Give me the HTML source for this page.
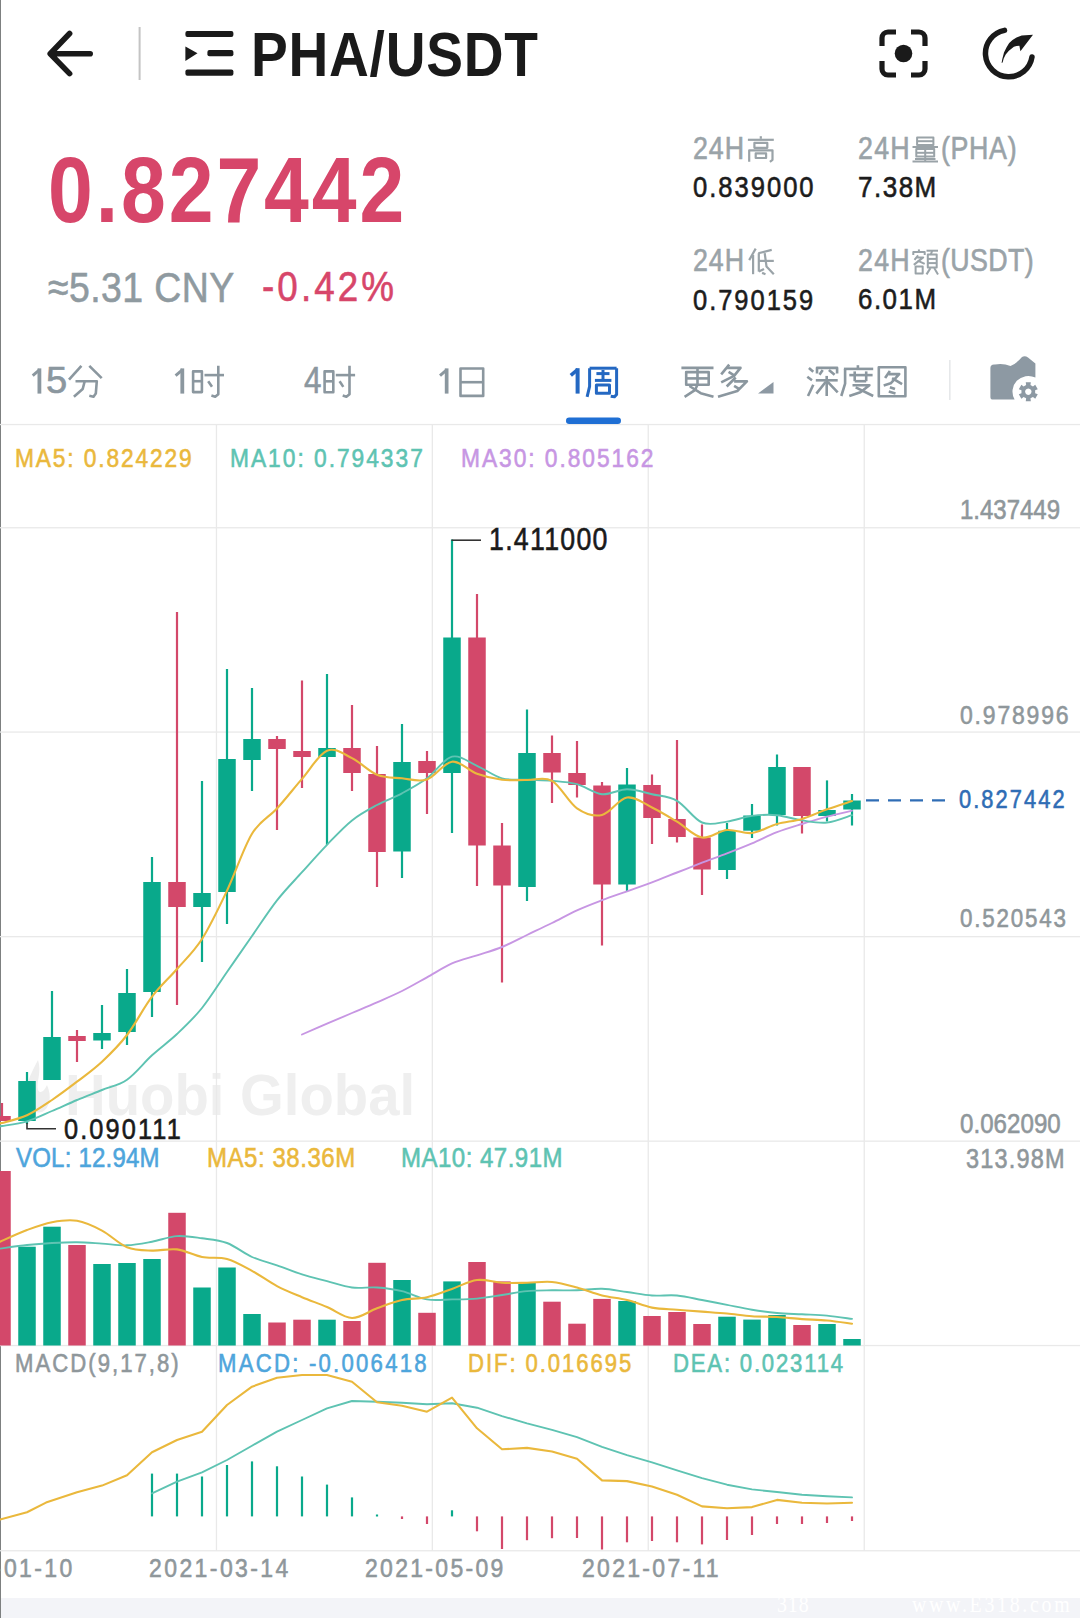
<!DOCTYPE html>
<html><head><meta charset="utf-8"><style>
html,body{margin:0;padding:0;background:#fff;}
body{width:1080px;height:1618px;position:relative;overflow:hidden;font-family:"Liberation Sans",sans-serif;}
.t{position:absolute;white-space:nowrap;line-height:1;transform-origin:0 0;}
.s{position:absolute;left:0;top:0;}
</style></head><body>
<div style="position:absolute;left:0;top:1598px;width:1080px;height:20px;background:#f3f4f8"></div>
<div style="position:absolute;left:0;top:0;width:1.3px;height:1618px;background:#7d8080"></div>
<svg class="s" width="1080" height="1618"><path d="M38,1060 C30,1075 24,1088 26,1100 C28,1110 36,1114 42,1112 C50,1108 52,1096 47,1085 C44,1092 40,1094 38,1090 C36,1082 42,1072 38,1060 Z" fill="#eeeeee"/></svg><div class="t" style="left:65.14px;top:1066.06px;font-size:58.29px;color:#efefef;font-weight:bold;letter-spacing:0.000px;transform:scaleX(0.9657);">Huobi Global</div><svg class="s" width="1080" height="1618" viewBox="0 0 1080 1618"><rect x="0" y="423.9" width="1080" height="1.3" fill="#e9e9e9"/><rect x="0" y="527.1" width="1080" height="1.3" fill="#e9e9e9"/><rect x="0" y="731.4" width="1080" height="1.3" fill="#e9e9e9"/><rect x="0" y="936.0" width="1080" height="1.3" fill="#e9e9e9"/><rect x="0" y="1140.5" width="1080" height="1.3" fill="#e9e9e9"/><rect x="0" y="1344.9" width="1080" height="1.3" fill="#e9e9e9"/><rect x="0" y="1550.1" width="1080" height="1.3" fill="#e9e9e9"/><rect x="215.8" y="425" width="1.3" height="1126" fill="#e9e9e9"/><rect x="431.7" y="425" width="1.3" height="1126" fill="#e9e9e9"/><rect x="647.6" y="425" width="1.3" height="1126" fill="#e9e9e9"/><rect x="863.6" y="425" width="1.3" height="1126" fill="#e9e9e9"/><rect x="0.90" y="1103.00" width="2.2" height="18.00" fill="#d3486a"/><rect x="-6.75" y="1116.00" width="17.5" height="5.00" fill="#d3486a"/><rect x="25.90" y="1072.00" width="2.2" height="52.00" fill="#09a98b"/><rect x="18.25" y="1081.00" width="17.5" height="40.00" fill="#09a98b"/><rect x="50.90" y="991.00" width="2.2" height="89.00" fill="#09a98b"/><rect x="43.25" y="1037.00" width="17.5" height="43.00" fill="#09a98b"/><rect x="75.90" y="1030.00" width="2.2" height="32.00" fill="#d3486a"/><rect x="68.25" y="1036.00" width="17.5" height="5.00" fill="#d3486a"/><rect x="100.90" y="1005.00" width="2.2" height="44.00" fill="#09a98b"/><rect x="93.25" y="1033.00" width="17.5" height="7.50" fill="#09a98b"/><rect x="125.90" y="969.00" width="2.2" height="76.00" fill="#09a98b"/><rect x="118.25" y="993.00" width="17.5" height="39.00" fill="#09a98b"/><rect x="150.90" y="857.00" width="2.2" height="160.00" fill="#09a98b"/><rect x="143.25" y="882.00" width="17.5" height="110.00" fill="#09a98b"/><rect x="175.90" y="612.00" width="2.2" height="393.00" fill="#d3486a"/><rect x="168.25" y="882.00" width="17.5" height="25.00" fill="#d3486a"/><rect x="200.90" y="781.00" width="2.2" height="181.00" fill="#09a98b"/><rect x="193.25" y="893.00" width="17.5" height="14.00" fill="#09a98b"/><rect x="225.90" y="669.00" width="2.2" height="255.00" fill="#09a98b"/><rect x="218.25" y="759.00" width="17.5" height="133.00" fill="#09a98b"/><rect x="250.90" y="688.00" width="2.2" height="103.00" fill="#09a98b"/><rect x="243.25" y="739.00" width="17.5" height="21.00" fill="#09a98b"/><rect x="275.90" y="736.00" width="2.2" height="94.00" fill="#d3486a"/><rect x="268.25" y="739.00" width="17.5" height="10.00" fill="#d3486a"/><rect x="300.90" y="680.50" width="2.2" height="107.50" fill="#d3486a"/><rect x="293.25" y="751.00" width="17.5" height="6.00" fill="#d3486a"/><rect x="325.90" y="674.00" width="2.2" height="171.00" fill="#09a98b"/><rect x="318.25" y="748.00" width="17.5" height="9.00" fill="#09a98b"/><rect x="350.90" y="705.00" width="2.2" height="86.00" fill="#d3486a"/><rect x="343.25" y="748.00" width="17.5" height="25.00" fill="#d3486a"/><rect x="375.90" y="746.00" width="2.2" height="141.00" fill="#d3486a"/><rect x="368.25" y="774.00" width="17.5" height="78.00" fill="#d3486a"/><rect x="400.90" y="724.00" width="2.2" height="154.00" fill="#09a98b"/><rect x="393.25" y="762.00" width="17.5" height="89.50" fill="#09a98b"/><rect x="425.90" y="751.00" width="2.2" height="63.00" fill="#d3486a"/><rect x="418.25" y="761.00" width="17.5" height="12.00" fill="#d3486a"/><rect x="450.90" y="539.50" width="2.2" height="293.50" fill="#09a98b"/><rect x="443.25" y="637.50" width="17.5" height="135.50" fill="#09a98b"/><rect x="475.90" y="594.00" width="2.2" height="292.00" fill="#d3486a"/><rect x="468.25" y="637.50" width="17.5" height="208.00" fill="#d3486a"/><rect x="500.90" y="823.00" width="2.2" height="159.50" fill="#d3486a"/><rect x="493.25" y="845.50" width="17.5" height="40.00" fill="#d3486a"/><rect x="525.90" y="709.50" width="2.2" height="191.50" fill="#09a98b"/><rect x="518.25" y="753.00" width="17.5" height="134.00" fill="#09a98b"/><rect x="550.90" y="735.50" width="2.2" height="67.50" fill="#d3486a"/><rect x="543.25" y="753.00" width="17.5" height="19.50" fill="#d3486a"/><rect x="575.90" y="741.00" width="2.2" height="56.50" fill="#d3486a"/><rect x="568.25" y="773.00" width="17.5" height="12.00" fill="#d3486a"/><rect x="600.90" y="782.00" width="2.2" height="163.50" fill="#d3486a"/><rect x="593.25" y="785.50" width="17.5" height="99.00" fill="#d3486a"/><rect x="625.90" y="768.00" width="2.2" height="123.00" fill="#09a98b"/><rect x="618.25" y="784.50" width="17.5" height="100.00" fill="#09a98b"/><rect x="650.90" y="774.50" width="2.2" height="69.50" fill="#d3486a"/><rect x="643.25" y="785.00" width="17.5" height="33.00" fill="#d3486a"/><rect x="675.90" y="740.00" width="2.2" height="102.50" fill="#d3486a"/><rect x="668.25" y="819.00" width="17.5" height="18.00" fill="#d3486a"/><rect x="700.90" y="824.50" width="2.2" height="70.50" fill="#d3486a"/><rect x="693.25" y="837.50" width="17.5" height="32.00" fill="#d3486a"/><rect x="725.90" y="823.00" width="2.2" height="56.00" fill="#09a98b"/><rect x="718.25" y="830.75" width="17.5" height="39.25" fill="#09a98b"/><rect x="750.90" y="804.00" width="2.2" height="34.00" fill="#09a98b"/><rect x="743.25" y="815.50" width="17.5" height="15.20" fill="#09a98b"/><rect x="775.90" y="754.50" width="2.2" height="71.00" fill="#09a98b"/><rect x="768.25" y="767.00" width="17.5" height="48.00" fill="#09a98b"/><rect x="800.90" y="767.00" width="2.2" height="66.50" fill="#d3486a"/><rect x="793.25" y="767.00" width="17.5" height="49.00" fill="#d3486a"/><rect x="825.90" y="780.40" width="2.2" height="41.10" fill="#09a98b"/><rect x="818.25" y="810.00" width="17.5" height="6.00" fill="#09a98b"/><rect x="850.90" y="794.00" width="2.2" height="31.50" fill="#09a98b"/><rect x="843.25" y="800.50" width="17.5" height="9.00" fill="#09a98b"/><rect x="-6.75" y="1171.00" width="17.5" height="174.50" fill="#d3486a"/><rect x="18.25" y="1246.70" width="17.5" height="98.80" fill="#09a98b"/><rect x="43.25" y="1226.70" width="17.5" height="118.80" fill="#09a98b"/><rect x="68.25" y="1245.00" width="17.5" height="100.50" fill="#d3486a"/><rect x="93.25" y="1264.00" width="17.5" height="81.50" fill="#09a98b"/><rect x="118.25" y="1263.00" width="17.5" height="82.50" fill="#09a98b"/><rect x="143.25" y="1259.00" width="17.5" height="86.50" fill="#09a98b"/><rect x="168.25" y="1212.80" width="17.5" height="132.70" fill="#d3486a"/><rect x="193.25" y="1287.50" width="17.5" height="58.00" fill="#09a98b"/><rect x="218.25" y="1267.50" width="17.5" height="78.00" fill="#09a98b"/><rect x="243.25" y="1314.00" width="17.5" height="31.50" fill="#09a98b"/><rect x="268.25" y="1322.50" width="17.5" height="23.00" fill="#d3486a"/><rect x="293.25" y="1319.70" width="17.5" height="25.80" fill="#d3486a"/><rect x="318.25" y="1319.70" width="17.5" height="25.80" fill="#09a98b"/><rect x="343.25" y="1321.00" width="17.5" height="24.50" fill="#d3486a"/><rect x="368.25" y="1262.80" width="17.5" height="82.70" fill="#d3486a"/><rect x="393.25" y="1280.00" width="17.5" height="65.50" fill="#09a98b"/><rect x="418.25" y="1312.80" width="17.5" height="32.70" fill="#d3486a"/><rect x="443.25" y="1281.40" width="17.5" height="64.10" fill="#09a98b"/><rect x="468.25" y="1262.00" width="17.5" height="83.50" fill="#d3486a"/><rect x="493.25" y="1281.40" width="17.5" height="64.10" fill="#d3486a"/><rect x="518.25" y="1282.80" width="17.5" height="62.70" fill="#09a98b"/><rect x="543.25" y="1301.70" width="17.5" height="43.80" fill="#d3486a"/><rect x="568.25" y="1323.70" width="17.5" height="21.80" fill="#d3486a"/><rect x="593.25" y="1298.90" width="17.5" height="46.60" fill="#d3486a"/><rect x="618.25" y="1301.00" width="17.5" height="44.50" fill="#09a98b"/><rect x="643.25" y="1316.00" width="17.5" height="29.50" fill="#d3486a"/><rect x="668.25" y="1312.00" width="17.5" height="33.50" fill="#d3486a"/><rect x="693.25" y="1324.00" width="17.5" height="21.50" fill="#d3486a"/><rect x="718.25" y="1316.70" width="17.5" height="28.80" fill="#09a98b"/><rect x="743.25" y="1319.60" width="17.5" height="25.90" fill="#09a98b"/><rect x="768.25" y="1315.00" width="17.5" height="30.50" fill="#09a98b"/><rect x="793.25" y="1325.00" width="17.5" height="20.50" fill="#d3486a"/><rect x="818.25" y="1324.00" width="17.5" height="21.50" fill="#09a98b"/><rect x="843.25" y="1339.00" width="17.5" height="6.50" fill="#09a98b"/><rect x="150.90" y="1473.60" width="2.2" height="42.80" fill="#09a98b"/><rect x="175.90" y="1473.60" width="2.2" height="42.80" fill="#09a98b"/><rect x="200.90" y="1476.50" width="2.2" height="39.90" fill="#09a98b"/><rect x="225.90" y="1465.00" width="2.2" height="51.40" fill="#09a98b"/><rect x="250.90" y="1461.40" width="2.2" height="55.00" fill="#09a98b"/><rect x="275.90" y="1466.30" width="2.2" height="50.10" fill="#09a98b"/><rect x="300.90" y="1476.50" width="2.2" height="39.90" fill="#09a98b"/><rect x="325.90" y="1484.60" width="2.2" height="31.80" fill="#09a98b"/><rect x="350.90" y="1497.40" width="2.2" height="19.00" fill="#09a98b"/><rect x="375.90" y="1514.50" width="2.2" height="2.00" fill="#09a98b"/><rect x="400.90" y="1516.40" width="2.2" height="2.60" fill="#d3486a"/><rect x="425.90" y="1516.40" width="2.2" height="7.60" fill="#d3486a"/><rect x="450.90" y="1510.30" width="2.2" height="6.10" fill="#09a98b"/><rect x="475.90" y="1516.40" width="2.2" height="14.90" fill="#d3486a"/><rect x="500.90" y="1516.40" width="2.2" height="32.60" fill="#d3486a"/><rect x="525.90" y="1516.40" width="2.2" height="23.80" fill="#d3486a"/><rect x="550.90" y="1516.40" width="2.2" height="21.80" fill="#d3486a"/><rect x="575.90" y="1516.40" width="2.2" height="21.60" fill="#d3486a"/><rect x="600.90" y="1516.40" width="2.2" height="33.10" fill="#d3486a"/><rect x="625.90" y="1516.40" width="2.2" height="25.90" fill="#d3486a"/><rect x="650.90" y="1516.40" width="2.2" height="24.60" fill="#d3486a"/><rect x="675.90" y="1516.40" width="2.2" height="25.90" fill="#d3486a"/><rect x="700.90" y="1516.40" width="2.2" height="28.00" fill="#d3486a"/><rect x="725.90" y="1516.40" width="2.2" height="23.60" fill="#d3486a"/><rect x="750.90" y="1516.40" width="2.2" height="18.60" fill="#d3486a"/><rect x="775.90" y="1516.40" width="2.2" height="7.60" fill="#d3486a"/><rect x="800.90" y="1516.40" width="2.2" height="7.60" fill="#d3486a"/><rect x="825.90" y="1516.40" width="2.2" height="6.60" fill="#d3486a"/><rect x="850.90" y="1516.40" width="2.2" height="4.60" fill="#d3486a"/><path d="M302.00,1034.50 C306.17,1032.70 318.67,1027.28 327.00,1023.70 C335.33,1020.12 343.67,1016.57 352.00,1013.00 C360.33,1009.43 368.67,1005.97 377.00,1002.30 C385.33,998.63 393.67,995.17 402.00,991.00 C410.33,986.83 418.67,981.90 427.00,977.30 C435.33,972.70 443.67,967.07 452.00,963.40 C460.33,959.73 468.67,958.03 477.00,955.30 C485.33,952.57 493.67,950.38 502.00,947.00 C510.33,943.62 518.67,939.00 527.00,935.00 C535.33,931.00 543.67,927.12 552.00,923.00 C560.33,918.88 568.67,914.10 577.00,910.30 C585.33,906.50 593.67,903.37 602.00,900.20 C610.33,897.03 618.67,894.28 627.00,891.30 C635.33,888.32 643.67,885.43 652.00,882.30 C660.33,879.17 668.67,875.77 677.00,872.50 C685.33,869.23 693.67,865.90 702.00,862.70 C710.33,859.50 718.67,856.53 727.00,853.30 C735.33,850.07 743.67,846.82 752.00,843.30 C760.33,839.78 768.67,835.42 777.00,832.20 C785.33,828.98 793.67,826.58 802.00,824.00 C810.33,821.42 818.67,818.92 827.00,816.70 C835.33,814.48 847.83,811.70 852.00,810.70" fill="none" stroke="#c796e3" stroke-width="1.9" stroke-linejoin="round" stroke-linecap="round"/><path d="M0.00,1126.00 C0.33,1126.00 -2.50,1126.78 2.00,1126.00 C6.50,1125.22 18.67,1123.80 27.00,1121.30 C35.33,1118.80 43.67,1114.55 52.00,1111.00 C60.33,1107.45 68.67,1103.50 77.00,1100.00 C85.33,1096.50 93.67,1093.38 102.00,1090.00 C110.33,1086.62 118.67,1085.48 127.00,1079.70 C135.33,1073.92 143.67,1062.92 152.00,1055.30 C160.33,1047.68 168.67,1041.88 177.00,1034.00 C185.33,1026.12 193.67,1018.33 202.00,1008.00 C210.33,997.67 218.67,984.00 227.00,972.00 C235.33,960.00 243.67,947.93 252.00,936.00 C260.33,924.07 268.67,911.03 277.00,900.40 C285.33,889.77 293.67,881.47 302.00,872.20 C310.33,862.93 318.67,853.43 327.00,844.80 C335.33,836.17 343.67,827.03 352.00,820.40 C360.33,813.77 368.67,809.52 377.00,805.00 C385.33,800.48 393.67,797.75 402.00,793.30 C410.33,788.85 418.67,784.40 427.00,778.30 C435.33,772.20 443.67,758.78 452.00,756.70 C460.33,754.62 468.67,762.20 477.00,765.80 C485.33,769.40 493.67,775.98 502.00,778.30 C510.33,780.62 518.67,779.28 527.00,779.70 C535.33,780.12 543.67,780.05 552.00,780.80 C560.33,781.55 568.67,781.97 577.00,784.20 C585.33,786.43 593.67,793.37 602.00,794.20 C610.33,795.03 618.67,789.20 627.00,789.20 C635.33,789.20 643.67,792.27 652.00,794.20 C660.33,796.13 668.67,796.08 677.00,800.80 C685.33,805.52 693.67,819.03 702.00,822.50 C710.33,825.97 718.67,822.70 727.00,821.60 C735.33,820.50 743.67,816.97 752.00,815.90 C760.33,814.83 768.67,814.45 777.00,815.20 C785.33,815.95 793.67,819.17 802.00,820.40 C810.33,821.63 818.67,823.47 827.00,822.60 C835.33,821.73 847.83,816.43 852.00,815.20" fill="none" stroke="#5ec3b2" stroke-width="1.9" stroke-linejoin="round" stroke-linecap="round"/><path d="M0.00,1123.00 C0.33,1123.00 -2.50,1124.28 2.00,1123.00 C6.50,1121.72 18.67,1119.13 27.00,1115.30 C35.33,1111.47 43.67,1105.60 52.00,1100.00 C60.33,1094.40 68.67,1088.08 77.00,1081.70 C85.33,1075.32 93.67,1069.48 102.00,1061.70 C110.33,1053.92 118.67,1045.83 127.00,1035.00 C135.33,1024.17 143.67,1007.70 152.00,996.70 C160.33,985.70 168.67,978.62 177.00,969.00 C185.33,959.38 193.67,952.05 202.00,939.00 C210.33,925.95 218.67,908.25 227.00,890.70 C235.33,873.15 243.67,847.40 252.00,833.70 C260.33,820.00 268.67,817.63 277.00,808.50 C285.33,799.37 293.67,788.53 302.00,778.90 C310.33,769.27 318.67,754.17 327.00,750.70 C335.33,747.23 343.67,754.10 352.00,758.10 C360.33,762.10 368.67,771.33 377.00,774.70 C385.33,778.07 393.67,777.50 402.00,778.30 C410.33,779.10 418.67,782.27 427.00,779.50 C435.33,776.73 443.67,762.67 452.00,761.70 C460.33,760.73 468.67,770.70 477.00,773.70 C485.33,776.70 493.67,778.65 502.00,779.70 C510.33,780.75 518.67,779.82 527.00,780.00 C535.33,780.18 543.67,776.08 552.00,780.80 C560.33,785.52 568.67,802.60 577.00,808.30 C585.33,814.00 593.67,816.80 602.00,815.00 C610.33,813.20 618.67,798.75 627.00,797.50 C635.33,796.25 643.67,803.47 652.00,807.50 C660.33,811.53 668.67,816.70 677.00,821.70 C685.33,826.70 693.67,836.12 702.00,837.50 C710.33,838.88 718.67,830.75 727.00,830.00 C735.33,829.25 743.67,834.00 752.00,833.00 C760.33,832.00 768.67,826.35 777.00,824.00 C785.33,821.65 793.67,821.35 802.00,818.90 C810.33,816.45 818.67,812.27 827.00,809.30 C835.33,806.33 847.83,802.47 852.00,801.10" fill="none" stroke="#eab83c" stroke-width="2.1" stroke-linejoin="round" stroke-linecap="round"/><path d="M0.00,1248.60 C4.50,1248.00 18.33,1245.93 27.00,1245.00 C35.67,1244.07 43.67,1243.47 52.00,1243.00 C60.33,1242.53 68.67,1242.10 77.00,1242.20 C85.33,1242.30 93.67,1243.08 102.00,1243.60 C110.33,1244.12 118.67,1245.62 127.00,1245.30 C135.33,1244.98 143.67,1243.23 152.00,1241.70 C160.33,1240.17 168.67,1236.67 177.00,1236.10 C185.33,1235.53 193.67,1237.15 202.00,1238.30 C210.33,1239.45 218.67,1239.88 227.00,1243.00 C235.33,1246.12 243.67,1253.28 252.00,1257.00 C260.33,1260.72 268.67,1262.40 277.00,1265.30 C285.33,1268.20 293.67,1271.77 302.00,1274.40 C310.33,1277.03 318.67,1278.92 327.00,1281.10 C335.33,1283.28 343.67,1286.43 352.00,1287.50 C360.33,1288.57 368.67,1286.90 377.00,1287.50 C385.33,1288.10 393.67,1289.12 402.00,1291.10 C410.33,1293.08 418.67,1298.02 427.00,1299.40 C435.33,1300.78 443.67,1299.53 452.00,1299.40 C460.33,1299.27 468.67,1299.33 477.00,1298.60 C485.33,1297.87 493.67,1296.25 502.00,1295.00 C510.33,1293.75 518.67,1291.88 527.00,1291.10 C535.33,1290.32 543.67,1290.43 552.00,1290.30 C560.33,1290.17 568.67,1290.55 577.00,1290.30 C585.33,1290.05 593.67,1288.52 602.00,1288.80 C610.33,1289.08 618.67,1290.88 627.00,1292.00 C635.33,1293.12 643.67,1294.92 652.00,1295.50 C660.33,1296.08 668.67,1294.75 677.00,1295.50 C685.33,1296.25 693.67,1298.43 702.00,1300.00 C710.33,1301.57 718.67,1303.28 727.00,1304.90 C735.33,1306.52 743.67,1308.35 752.00,1309.70 C760.33,1311.05 768.67,1312.23 777.00,1313.00 C785.33,1313.77 793.67,1313.87 802.00,1314.30 C810.33,1314.73 818.67,1314.83 827.00,1315.60 C835.33,1316.37 847.83,1318.35 852.00,1318.90" fill="none" stroke="#5ec3b2" stroke-width="1.9" stroke-linejoin="round" stroke-linecap="round"/><path d="M0.00,1241.70 C4.50,1239.75 18.33,1233.25 27.00,1230.00 C35.67,1226.75 43.67,1223.73 52.00,1222.20 C60.33,1220.67 68.67,1219.40 77.00,1220.80 C85.33,1222.20 93.67,1226.20 102.00,1230.60 C110.33,1235.00 118.67,1243.87 127.00,1247.20 C135.33,1250.53 143.67,1250.23 152.00,1250.60 C160.33,1250.97 168.67,1248.33 177.00,1249.40 C185.33,1250.47 193.67,1255.42 202.00,1257.00 C210.33,1258.58 218.67,1256.60 227.00,1258.90 C235.33,1261.20 243.67,1266.27 252.00,1270.80 C260.33,1275.33 268.67,1281.70 277.00,1286.10 C285.33,1290.50 293.67,1293.72 302.00,1297.20 C310.33,1300.68 318.67,1303.53 327.00,1307.00 C335.33,1310.47 343.67,1317.78 352.00,1318.00 C360.33,1318.22 368.67,1311.30 377.00,1308.30 C385.33,1305.30 393.67,1301.85 402.00,1300.00 C410.33,1298.15 418.67,1299.05 427.00,1297.20 C435.33,1295.35 443.67,1291.77 452.00,1288.90 C460.33,1286.03 468.67,1281.02 477.00,1280.00 C485.33,1278.98 493.67,1282.33 502.00,1282.80 C510.33,1283.27 518.67,1282.93 527.00,1282.80 C535.33,1282.67 543.67,1281.22 552.00,1282.00 C560.33,1282.78 568.67,1285.25 577.00,1287.50 C585.33,1289.75 593.67,1293.42 602.00,1295.50 C610.33,1297.58 618.67,1297.98 627.00,1300.00 C635.33,1302.02 643.67,1305.98 652.00,1307.60 C660.33,1309.22 668.67,1309.03 677.00,1309.70 C685.33,1310.37 693.67,1310.97 702.00,1311.60 C710.33,1312.23 718.67,1312.73 727.00,1313.50 C735.33,1314.27 743.67,1315.62 752.00,1316.20 C760.33,1316.78 768.67,1316.52 777.00,1317.00 C785.33,1317.48 793.67,1318.52 802.00,1319.10 C810.33,1319.68 818.67,1319.73 827.00,1320.50 C835.33,1321.27 847.83,1323.17 852.00,1323.70" fill="none" stroke="#eab83c" stroke-width="2.1" stroke-linejoin="round" stroke-linecap="round"/><polyline points="152.0,1493.3 177.0,1481.7 202.0,1472.3 227.0,1460.0 252.0,1445.7 277.0,1431.7 302.0,1420.0 327.0,1408.3 352.0,1401.0 377.0,1401.7 402.0,1402.7 427.0,1404.3 452.0,1403.3 477.0,1407.7 502.0,1416.1 527.0,1423.3 552.0,1429.8 577.0,1437.1 602.0,1446.8 627.0,1455.1 652.0,1462.3 677.0,1470.3 702.0,1478.2 727.0,1484.7 752.0,1489.4 777.0,1492.0 802.0,1494.8 827.0,1496.3 852.0,1497.4" fill="none" stroke="#5ec3b2" stroke-width="1.9" stroke-linejoin="round" stroke-linecap="round"/><polyline points="0.0,1519.6 27.0,1512.2 46.0,1502.6 77.0,1492.2 102.0,1485.6 127.0,1475.2 152.0,1452.2 177.0,1440.0 202.0,1431.7 227.0,1405.0 252.0,1386.7 277.0,1377.7 302.0,1375.0 327.0,1375.0 352.0,1381.7 377.0,1402.3 402.0,1405.7 427.0,1411.7 452.0,1397.7 477.0,1428.3 502.0,1449.3 527.0,1447.9 552.0,1451.5 577.0,1458.7 602.0,1480.4 627.0,1481.1 652.0,1486.5 677.0,1494.8 702.0,1506.4 727.0,1508.2 752.0,1507.1 777.0,1499.9 802.0,1502.8 827.0,1503.5 852.0,1502.8" fill="none" stroke="#eab83c" stroke-width="2.1" stroke-linejoin="round" stroke-linecap="round"/><path d="M451.5,540.2 H481" fill="none" stroke="#333" stroke-width="1.6"/><path d="M27,1123 V1128.8 H56" fill="none" stroke="#333" stroke-width="1.6"/><path d="M866,800.3 H951" fill="none" stroke="#2f6db5" stroke-width="2.2" stroke-dasharray="13,9"/><path d="M90.2,53.7 H50.4 M69.6,33.5 L50.2,53.7 L69.6,73.6" fill="none" stroke="#1a1a1a" stroke-width="5.6" stroke-linecap="round" stroke-linejoin="round"/><rect x="138.6" y="27" width="2" height="53" fill="#c4c4c4"/><rect x="185.4" y="31" width="48" height="6" rx="2" fill="#1a1a1a"/><rect x="207.4" y="50" width="26" height="6.3" rx="2" fill="#1a1a1a"/><rect x="185.4" y="69.5" width="48" height="6.2" rx="2" fill="#1a1a1a"/><path d="M185.4,46.5 L197.5,53.3 L185.4,61 Z" fill="#1a1a1a"/><path d="M882,46 V38 a6,6 0 0 1 6,-6 H896 M911,32 H919 a6,6 0 0 1 6,6 V46 M925,61 V69 a6,6 0 0 1 -6,6 H911 M896,75 H888 a6,6 0 0 1 -6,-6 V61" fill="none" stroke="#1a1a1a" stroke-width="5.2" stroke-linecap="butt"/><circle cx="903.5" cy="53.5" r="8.8" fill="#1a1a1a"/><path d="M1004.5,30.4 A23.4,23.4 0 1 0 1032,56.9" fill="none" stroke="#1a1a1a" stroke-width="5.5" stroke-linecap="round"/><path d="M1001.6,63 L1002.3,58.9 L1004.0,52.4 L1006.6,47.2 L1009.2,43.1 L1012.5,39.9 L1016.5,37.5 L1021.7,35.4 L1033,34.7 L1020.4,51.3 L1019.4,45.8 L1016.5,46.0 L1013.9,46.8 L1008.9,50.7 L1005.7,54.5 L1003.7,58.4 L1002.6,62.6 Z" fill="#1a1a1a"/><path d="M990.4,368 Q990.4,364 995,364.5 Q1003,363 1010.5,366 Q1016,364 1022,357 Q1025,355.5 1028,357.5 L1035.4,363.5 L1035.4,377.6 A15.8,15.8 0 0 0 1014.6,399.6 L993,399.6 Q990.4,399.6 990.4,397 Z" fill="#8d99a3"/><path d="M1037.77,394.24 L1035.23,398.63 L1032.98,396.90 L1030.46,398.36 L1030.84,401.17 L1025.76,401.17 L1026.14,398.36 L1023.62,396.90 L1021.37,398.63 L1018.83,394.24 L1021.45,393.16 L1021.45,390.24 L1018.83,389.16 L1021.37,384.77 L1023.62,386.50 L1026.14,385.04 L1025.76,382.23 L1030.84,382.23 L1030.46,385.04 L1032.98,386.50 L1035.23,384.77 L1037.77,389.16 L1035.15,390.24 L1035.15,393.16 Z M1028.30,388.50 a3.2,3.2 0 1 0 0.01,0 Z" fill="#8d99a3" fill-rule="evenodd"/><path d="M758,393.5 L773.5,393.5 L773.5,382 Z" fill="#8d99a3"/><rect x="949" y="360" width="1.6" height="40" fill="#e6e8ea"/><rect x="566" y="417.5" width="55" height="6.5" rx="3.2" fill="#1f6fd4"/><g fill="none" stroke="#9aa3a8" stroke-width="2.20" stroke-linejoin="round" stroke-linecap="butt"><polyline points="760.8,136.2 760.8,138.8"/><polyline points="747.9,139.8 773.8,139.8"/><rect x="754.4" y="142.9" width="12.9" height="4.9"/><polyline points="749.2,161.8 749.2,150.3 772.5,150.3 772.5,159.8 769.9,161.8"/><rect x="755.7" y="153.4" width="10.4" height="4.6"/></g><g fill="none" stroke="#9aa3a8" stroke-width="2.00" stroke-linejoin="round" stroke-linecap="butt"><rect x="917.1" y="137.5" width="16.3" height="7.5"/><polyline points="917.1,141.2 933.4,141.2"/><polyline points="912.5,147.0 938.0,147.0"/><rect x="916.3" y="149.0" width="17.9" height="7.5"/><polyline points="916.3,152.8 934.2,152.8"/><polyline points="925.2,149.0 925.2,161.5"/><polyline points="915.0,159.0 935.5,159.0"/><polyline points="912.5,161.5 938.0,161.5"/></g><g fill="none" stroke="#9aa3a8" stroke-width="2.20" stroke-linejoin="round" stroke-linecap="butt"><polyline points="755.7,248.6 749.2,260.1"/><polyline points="753.1,255.0 753.1,274.2"/><polyline points="758.3,253.2 771.7,249.9"/><polyline points="758.8,253.2 758.8,271.6"/><polyline points="758.8,260.9 773.8,260.9"/><polyline points="764.7,253.2 766.5,266.5 773.8,274.2"/><polyline points="758.8,271.6 764.0,269.1"/><polyline points="762.1,272.9 765.5,274.2"/></g><g fill="none" stroke="#9aa3a8" stroke-width="2.00" stroke-linejoin="round" stroke-linecap="butt"><polyline points="918.9,249.4 918.9,251.4"/><polyline points="913.3,254.9 913.3,251.9 924.7,251.9 924.7,254.9"/><polyline points="918.1,255.4 914.5,259.9"/><polyline points="917.1,257.4 923.2,257.4 913.8,264.9"/><polyline points="917.6,260.6 924.7,263.9"/><rect x="915.6" y="266.4" width="7.1" height="7.0"/><polyline points="926.5,250.7 938.0,250.7"/><polyline points="932.1,250.7 930.9,254.4"/><rect x="927.8" y="254.4" width="8.9" height="13.0"/><polyline points="927.8,258.9 936.7,258.9"/><polyline points="927.8,263.1 936.7,263.1"/><polyline points="930.4,268.1 926.5,274.4"/><polyline points="934.2,268.1 938.0,274.4"/></g><rect x="37.50" y="368.40" width="3.80" height="25.20" fill="#8b979f"/><path d="M32.70,375.60 L39.70,369.60" stroke="#8b979f" stroke-width="3.00" stroke-linecap="butt" fill="none"/><g fill="none" stroke="#8b979f" stroke-width="2.60" stroke-linejoin="round" stroke-linecap="butt"><polyline points="81.4,365.8 69.0,379.7"/><polyline points="89.3,365.8 101.7,378.2"/><polyline points="75.5,381.2 96.8,381.2 95.8,393.6 93.5,396.7 89.3,395.8"/><polyline points="84.7,381.2 82.7,389.0 73.9,396.7"/></g><rect x="180.40" y="368.40" width="3.80" height="25.20" fill="#8b979f"/><path d="M175.60,375.60 L182.60,369.60" stroke="#8b979f" stroke-width="3.00" stroke-linecap="butt" fill="none"/><g fill="none" stroke="#8b979f" stroke-width="2.60" stroke-linejoin="round" stroke-linecap="butt"><rect x="193.1" y="371.4" width="8.8" height="20.7"/><polyline points="193.1,381.2 201.9,381.2"/><polyline points="204.5,375.1 224.0,375.1"/><polyline points="218.3,365.8 218.3,394.2 215.2,396.7 211.4,395.5"/><polyline points="208.2,381.2 212.0,386.8"/></g><g fill="none" stroke="#8b979f" stroke-width="2.60" stroke-linejoin="round" stroke-linecap="butt"><rect x="324.6" y="371.4" width="8.7" height="20.8"/><polyline points="324.6,381.3 333.3,381.3"/><polyline points="335.8,375.1 355.1,375.1"/><polyline points="349.5,365.8 349.5,394.3 346.4,396.8 342.7,395.6"/><polyline points="339.6,381.3 343.3,386.9"/></g><rect x="444.80" y="368.40" width="3.70" height="25.20" fill="#8b979f"/><path d="M440.00,375.60 L446.95,369.60" stroke="#8b979f" stroke-width="3.00" stroke-linecap="butt" fill="none"/><g fill="none" stroke="#8b979f" stroke-width="2.60" stroke-linejoin="round" stroke-linecap="butt"><rect x="460.5" y="368.5" width="22.7" height="27.4"/><polyline points="460.5,382.2 483.1,382.2"/></g><rect x="575.60" y="368.20" width="4.00" height="25.40" fill="#2468c2"/><path d="M570.80,375.40 L577.90,369.40" stroke="#2468c2" stroke-width="3.60" stroke-linecap="butt" fill="none"/><g fill="none" stroke="#2468c2" stroke-width="3.00" stroke-linejoin="round" stroke-linecap="butt"><polyline points="589.6,368.2 589.6,386.4 587.1,396.8"/><polyline points="589.6,368.2 616.6,368.2"/><polyline points="616.6,368.2 616.6,394.4 614.5,396.8 610.7,396.2"/><polyline points="596.4,373.6 609.5,373.6"/><polyline points="603.0,370.0 603.0,380.4"/><polyline points="594.9,380.4 611.4,380.4"/><rect x="596.4" y="384.9" width="13.1" height="8.3"/></g><g fill="none" stroke="#8b979f" stroke-width="2.60" stroke-linejoin="round" stroke-linecap="butt"><polyline points="681.4,367.9 713.5,367.9"/><rect x="686.2" y="372.1" width="22.5" height="12.6"/><polyline points="686.2,378.4 708.7,378.4"/><polyline points="697.5,367.9 697.5,384.8 694.9,390.2 684.6,396.8"/><polyline points="689.4,386.0 700.7,393.2 713.5,396.8"/></g><g fill="none" stroke="#8b979f" stroke-width="2.60" stroke-linejoin="round" stroke-linecap="butt"><polyline points="729.2,364.7 721.2,374.3"/><polyline points="727.0,367.9 740.5,367.9 734.1,375.9 721.2,382.4"/><polyline points="728.6,371.8 734.1,375.3"/><polyline points="735.7,377.5 726.7,386.5"/><polyline points="734.1,381.4 746.9,381.4 737.3,391.0 718.0,396.8"/><polyline points="734.1,385.9 739.5,389.1"/></g><g fill="none" stroke="#8b979f" stroke-width="2.60" stroke-linejoin="round" stroke-linecap="butt"><polyline points="808.9,367.9 813.3,371.7"/><polyline points="807.3,376.8 812.0,380.3"/><polyline points="808.0,396.0 813.3,384.8"/><polyline points="817.0,373.5 817.0,367.9 837.1,367.9 837.1,373.5"/><polyline points="822.7,370.0 819.5,374.7"/><polyline points="828.9,370.0 834.6,374.7"/><polyline points="815.8,380.3 837.7,380.3"/><polyline points="826.7,375.9 826.7,396.0"/><polyline points="825.8,381.8 816.4,393.6"/><polyline points="827.7,381.8 837.7,392.4"/></g><g fill="none" stroke="#8b979f" stroke-width="2.60" stroke-linejoin="round" stroke-linecap="butt"><polyline points="857.9,365.2 857.9,368.3"/><polyline points="843.9,368.9 873.2,368.9"/><polyline points="845.1,368.9 845.1,383.7 841.3,396.0"/><polyline points="849.3,375.1 872.6,375.1"/><polyline points="854.7,371.4 854.7,381.2"/><polyline points="866.2,371.4 866.2,381.2"/><polyline points="854.7,381.2 866.2,381.2"/><polyline points="852.5,385.2 869.4,385.2 860.4,392.3 849.3,396.0"/><polyline points="855.7,387.4 873.2,396.0"/></g><g fill="none" stroke="#8b979f" stroke-width="2.60" stroke-linejoin="round" stroke-linecap="butt"><rect x="878.8" y="367.3" width="26.6" height="28.9"/><polyline points="889.9,371.0 885.1,378.1"/><polyline points="888.8,374.1 899.2,374.1 890.7,383.3 883.7,385.4"/><polyline points="892.1,378.1 902.1,384.2"/><polyline points="889.9,387.3 895.0,389.1"/><polyline points="888.8,391.6 895.5,393.4"/></g></svg>
<div class="t" style="left:250.72px;top:23.06px;font-size:63.37px;color:#1a1a1a;font-weight:bold;letter-spacing:0.854px;transform:scaleX(0.8700);">PHA/USDT</div>
<div class="t" style="left:47.79px;top:144.24px;font-size:92.57px;color:#d7466a;font-weight:bold;letter-spacing:3.348px;transform:scaleX(0.8700);">0.827442</div>
<div class="t" style="left:47.63px;top:265.78px;font-size:43.02px;color:#8f9aa0;letter-spacing:0.484px;transform:scaleX(0.8700);-webkit-text-stroke:0.60px #8f9aa0;">≈5.31 CNY</div>
<div class="t" style="left:261.56px;top:266.41px;font-size:42.29px;color:#d7466a;letter-spacing:3.556px;transform:scaleX(0.8700);-webkit-text-stroke:0.60px #d7466a;">-0.42%</div>
<div class="t" style="left:693.13px;top:133.52px;font-size:30.81px;color:#9aa3a8;letter-spacing:1.086px;transform:scaleX(0.8700);-webkit-text-stroke:0.60px #9aa3a8;">24H</div>
<div class="t" style="left:692.83px;top:172.09px;font-size:29.43px;color:#1c1c1c;letter-spacing:2.273px;transform:scaleX(0.8700);-webkit-text-stroke:0.60px #1c1c1c;">0.839000</div>
<div class="t" style="left:858.23px;top:133.52px;font-size:30.81px;color:#9aa3a8;letter-spacing:1.431px;transform:scaleX(0.8700);-webkit-text-stroke:0.60px #9aa3a8;">24H</div>
<div class="t" style="left:941.46px;top:133.52px;font-size:30.81px;color:#9aa3a8;letter-spacing:0.756px;transform:scaleX(0.8700);-webkit-text-stroke:0.60px #9aa3a8;">(PHA)</div>
<div class="t" style="left:857.93px;top:171.65px;font-size:29.94px;color:#1c1c1c;letter-spacing:1.704px;transform:scaleX(0.8700);-webkit-text-stroke:0.60px #1c1c1c;">7.38M</div>
<div class="t" style="left:693.13px;top:245.92px;font-size:30.81px;color:#9aa3a8;letter-spacing:1.086px;transform:scaleX(0.8700);-webkit-text-stroke:0.60px #9aa3a8;">24H</div>
<div class="t" style="left:692.83px;top:284.51px;font-size:29.29px;color:#1c1c1c;letter-spacing:2.273px;transform:scaleX(0.8700);-webkit-text-stroke:0.60px #1c1c1c;">0.790159</div>
<div class="t" style="left:858.23px;top:245.92px;font-size:30.81px;color:#9aa3a8;letter-spacing:1.431px;transform:scaleX(0.8700);-webkit-text-stroke:0.60px #9aa3a8;">24H</div>
<div class="t" style="left:941.46px;top:245.92px;font-size:30.81px;color:#9aa3a8;letter-spacing:0.421px;transform:scaleX(0.8700);-webkit-text-stroke:0.60px #9aa3a8;">(USDT)</div>
<div class="t" style="left:857.93px;top:284.08px;font-size:29.80px;color:#1c1c1c;letter-spacing:1.704px;transform:scaleX(0.8700);-webkit-text-stroke:0.60px #1c1c1c;">6.01M</div>
<div class="t" style="left:46.44px;top:363.31px;font-size:36.14px;color:#8b979f;letter-spacing:0.000px;transform:scaleX(1.0556);-webkit-text-stroke:0.60px #8b979f;">5</div>
<div class="t" style="left:303.60px;top:363.31px;font-size:36.14px;color:#8b979f;letter-spacing:0.000px;transform:scaleX(0.8684);-webkit-text-stroke:0.60px #8b979f;">4</div>
<div class="t" style="left:15.06px;top:445.05px;font-size:26.16px;color:#eab83c;letter-spacing:2.136px;transform:scaleX(0.8700);-webkit-text-stroke:0.60px #eab83c;">MA5: 0.824229</div>
<div class="t" style="left:229.66px;top:445.05px;font-size:26.16px;color:#5ec3b2;letter-spacing:2.280px;transform:scaleX(0.8700);-webkit-text-stroke:0.60px #5ec3b2;">MA10: 0.794337</div>
<div class="t" style="left:460.66px;top:445.05px;font-size:26.16px;color:#c796e3;letter-spacing:2.245px;transform:scaleX(0.8700);-webkit-text-stroke:0.60px #c796e3;">MA30: 0.805162</div>
<div class="t" style="left:960.16px;top:496.36px;font-size:27.57px;color:#8f979b;letter-spacing:0.002px;transform:scaleX(0.8700);-webkit-text-stroke:0.60px #8f979b;">1.437449</div>
<div class="t" style="left:959.63px;top:702.13px;font-size:26.43px;color:#8f979b;letter-spacing:2.089px;transform:scaleX(0.8700);-webkit-text-stroke:0.60px #8f979b;">0.978996</div>
<div class="t" style="left:959.13px;top:787.32px;font-size:25.14px;color:#2f6db5;letter-spacing:2.363px;transform:scaleX(0.8700);-webkit-text-stroke:0.60px #2f6db5;">0.827442</div>
<div class="t" style="left:959.63px;top:906.23px;font-size:25.71px;color:#8f979b;letter-spacing:2.089px;transform:scaleX(0.8700);-webkit-text-stroke:0.60px #8f979b;">0.520543</div>
<div class="t" style="left:959.93px;top:1110.34px;font-size:27.71px;color:#8f979b;letter-spacing:0.039px;transform:scaleX(0.8700);-webkit-text-stroke:0.60px #8f979b;">0.062090</div>
<div class="t" style="left:966.13px;top:1145.54px;font-size:27.00px;color:#8f979b;letter-spacing:1.358px;transform:scaleX(0.8700);-webkit-text-stroke:0.60px #8f979b;">313.98M</div>
<div class="t" style="left:489.26px;top:525.00px;font-size:30.71px;color:#1a1a1a;letter-spacing:1.476px;transform:scaleX(0.8700);-webkit-text-stroke:0.60px #1a1a1a;">1.411000</div>
<div class="t" style="left:64.13px;top:1115.13px;font-size:29.14px;color:#1a1a1a;letter-spacing:2.433px;transform:scaleX(0.8700);-webkit-text-stroke:0.60px #1a1a1a;">0.090111</div>
<div class="t" style="left:15.60px;top:1144.42px;font-size:27.62px;color:#4ea5dc;letter-spacing:0.228px;transform:scaleX(0.8700);-webkit-text-stroke:0.60px #4ea5dc;">VOL: 12.94M</div>
<div class="t" style="left:206.56px;top:1144.42px;font-size:27.62px;color:#eab83c;letter-spacing:0.615px;transform:scaleX(0.8700);-webkit-text-stroke:0.60px #eab83c;">MA5: 38.36M</div>
<div class="t" style="left:401.06px;top:1144.42px;font-size:27.62px;color:#5ec3b2;letter-spacing:0.557px;transform:scaleX(0.8700);-webkit-text-stroke:0.60px #5ec3b2;">MA10: 47.91M</div>
<div class="t" style="left:15.36px;top:1351.17px;font-size:25.44px;color:#8f979b;letter-spacing:2.331px;transform:scaleX(0.8700);-webkit-text-stroke:0.60px #8f979b;">MACD(9,17,8)</div>
<div class="t" style="left:218.26px;top:1351.17px;font-size:25.44px;color:#4ea5dc;letter-spacing:2.581px;transform:scaleX(0.8700);-webkit-text-stroke:0.60px #4ea5dc;">MACD: -0.006418</div>
<div class="t" style="left:468.26px;top:1351.17px;font-size:25.44px;color:#eab83c;letter-spacing:2.201px;transform:scaleX(0.8700);-webkit-text-stroke:0.60px #eab83c;">DIF: 0.016695</div>
<div class="t" style="left:672.96px;top:1351.17px;font-size:25.44px;color:#5ec3b2;letter-spacing:2.070px;transform:scaleX(0.8700);-webkit-text-stroke:0.60px #5ec3b2;">DEA: 0.023114</div>
<div class="t" style="left:-67.37px;top:1555.13px;font-size:26.43px;color:#8f979b;letter-spacing:2.780px;transform:scaleX(0.8700);-webkit-text-stroke:0.60px #8f979b;">2021-01-10</div>
<div class="t" style="left:149.13px;top:1555.13px;font-size:26.43px;color:#8f979b;letter-spacing:2.780px;transform:scaleX(0.8700);-webkit-text-stroke:0.60px #8f979b;">2021-03-14</div>
<div class="t" style="left:365.13px;top:1555.13px;font-size:26.43px;color:#8f979b;letter-spacing:2.653px;transform:scaleX(0.8700);-webkit-text-stroke:0.60px #8f979b;">2021-05-09</div>
<div class="t" style="left:581.83px;top:1555.13px;font-size:26.43px;color:#8f979b;letter-spacing:2.645px;transform:scaleX(0.8700);-webkit-text-stroke:0.60px #8f979b;">2021-07-11</div>
<div class="t" style="left:777.13px;top:1593.65px;font-size:22.86px;color:#ffffff;letter-spacing:1.040px;transform:scaleX(0.8700);font-family:'Liberation Serif',serif;">318</div>
<div class="t" style="left:912.00px;top:1593.65px;font-size:22.86px;color:#ffffff;letter-spacing:3.100px;transform:scaleX(0.8700);font-family:'Liberation Serif',serif;">www.E318.com</div>
</body></html>
